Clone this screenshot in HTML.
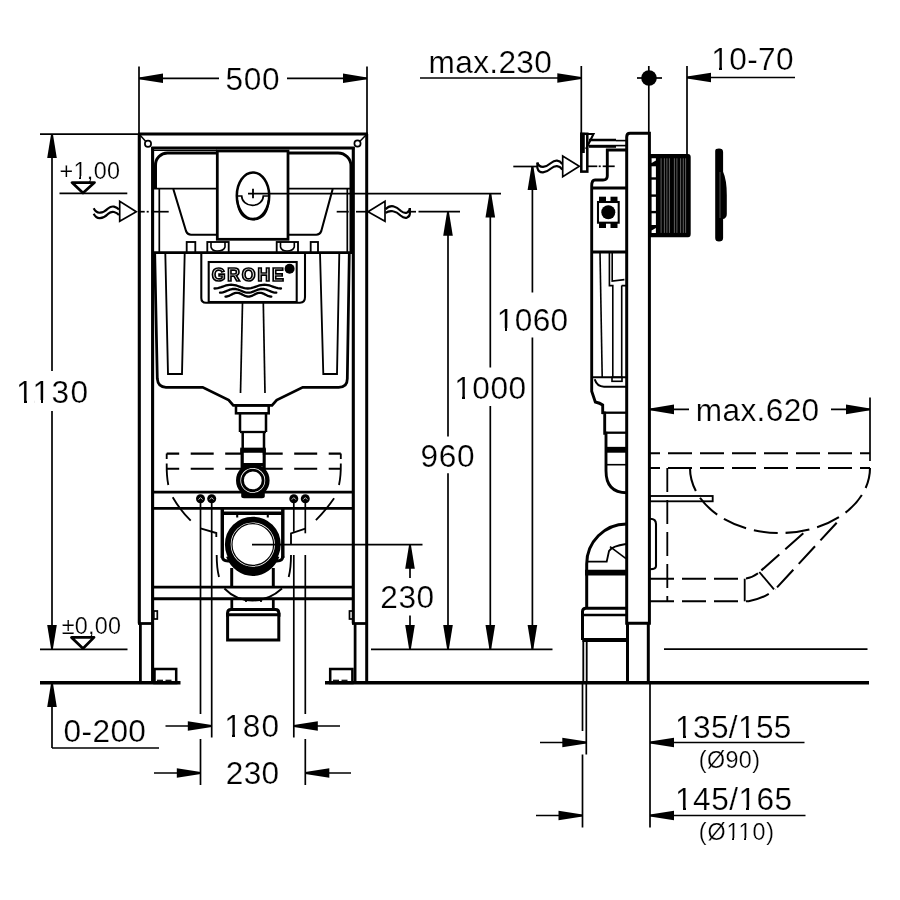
<!DOCTYPE html>
<html><head><meta charset="utf-8"><style>
html,body{margin:0;padding:0;background:#fff;width:900px;height:900px;overflow:hidden}
svg{display:block}
text{}
text{font-family:"Liberation Sans",sans-serif;fill:#000}
</style></head><body>
<svg width="900" height="900" viewBox="0 0 900 900" style="will-change:transform">
<rect width="900" height="900" fill="#fff"/>
<g stroke="#000" fill="none">
<line x1="139" y1="66.5" x2="139" y2="134" stroke-width="1.7" stroke-linecap="butt"/>
<line x1="367" y1="66.5" x2="367" y2="134" stroke-width="1.7" stroke-linecap="butt"/>
<line x1="139" y1="78.3" x2="219" y2="78.3" stroke-width="1.7" stroke-linecap="butt"/>
<line x1="287" y1="78.3" x2="367" y2="78.3" stroke-width="1.7" stroke-linecap="butt"/>
<polygon points="139,77.4 139,79.2 163,83.1 163,73.5" fill="#000" stroke="none"/>
<polygon points="367,77.4 367,79.2 343,83.1 343,73.5" fill="#000" stroke="none"/>
<text id="t0" x="225.62" y="90.32" font-size="31.60" letter-spacing="0.60" style="stroke:#fff;stroke-width:0.22px" >500</text>
<line x1="40" y1="134.1" x2="139" y2="134.1" stroke-width="1.7" stroke-linecap="butt"/>
<line x1="52" y1="134" x2="52" y2="371" stroke-width="1.7" stroke-linecap="butt"/>
<line x1="52" y1="411" x2="52" y2="649" stroke-width="1.7" stroke-linecap="butt"/>
<polygon points="51.1,134 52.9,134 56.8,158 47.2,158" fill="#000" stroke="none"/>
<polygon points="51.1,649 52.9,649 56.8,625 47.2,625" fill="#000" stroke="none"/>
<text id="t1" x="16.01" y="403.22" font-size="31.60" letter-spacing="1.38" style="stroke:#fff;stroke-width:0.22px" >1130</text>
<rect class="ft" x="17.90" y="400.00" width="6.04" height="5.00" fill="#fff" stroke="none" shape-rendering="crispEdges"/>
<rect class="ft" x="26.72" y="400.00" width="6.04" height="5.00" fill="#fff" stroke="none" shape-rendering="crispEdges"/>
<rect class="ft" x="34.50" y="400.00" width="6.04" height="5.00" fill="#fff" stroke="none" shape-rendering="crispEdges"/>
<rect class="ft" x="43.32" y="400.00" width="6.04" height="5.00" fill="#fff" stroke="none" shape-rendering="crispEdges"/>
<text id="t2" x="59.41" y="178.64" font-size="23.40" letter-spacing="0.37" style="stroke:#fff;stroke-width:0.22px" >+1,00</text>
<rect class="ft" x="74.85" y="176.00" width="4.47" height="4.00" fill="#fff" stroke="none" shape-rendering="crispEdges"/>
<rect class="ft" x="81.37" y="176.00" width="4.47" height="4.00" fill="#fff" stroke="none" shape-rendering="crispEdges"/>
<path d="M72,182.6 H94.5 L83,193 Z" stroke-width="2.76" fill="none" stroke-linejoin="round"/>
<line x1="59.5" y1="193.3" x2="127.3" y2="193.3" stroke-width="1.7" stroke-linecap="butt"/>
<text id="t3" x="61.66" y="634.42" font-size="23.40" letter-spacing="0.25" style="stroke:#fff;stroke-width:0.22px" >±0,00</text>
<path d="M71.5,637.4 H94 L83,648.5 Z" stroke-width="2.76" fill="none" stroke-linejoin="round"/>
<line x1="40" y1="649.3" x2="127.5" y2="649.3" stroke-width="1.7" stroke-linecap="butt"/>
<path d="M119.7,201.3 V221.3 L136.3,211.7 Z" stroke-width="1.7" fill="#fff" />
<path d="M93.7,208.3 Q96,213 100,212.7 Q104,212.5 108,208.5 Q111,206 114,206.6 Q117,207.3 119,209.5" stroke-width="2.18" fill="none" />
<path d="M93.7,213.7 Q96,218.4 100,218.1 Q104,217.9 108,213.9 Q111,211.4 114,212 Q117,212.7 119,214.9" stroke-width="2.18" fill="none" />
<line x1="140" y1="211.7" x2="144.7" y2="211.7" stroke-width="1.7" stroke-linecap="butt"/>
<line x1="146.7" y1="211.7" x2="148.7" y2="211.7" stroke-width="1.7" stroke-linecap="butt"/>
<line x1="151.3" y1="211.7" x2="168.7" y2="211.7" stroke-width="1.7" stroke-linecap="butt"/>
<path d="M385,201.3 V221.3 L368,211.7 Z" stroke-width="1.7" fill="#fff" />
<path d="M385.5,209.3 Q389,205.6 393.3,206.3 Q397,207 401,211 Q404,213.5 407,212.6 Q409.7,211.5 409.9,208" stroke-width="2.18" fill="none" />
<path d="M385.5,212.9 Q389,210.5 393,211.3 Q397,212 400.5,215.5 Q404,218.5 407,217.6 Q409.9,216.5 409.9,213.2 V208" stroke-width="2.18" fill="none" />
<line x1="336.7" y1="211.7" x2="348.7" y2="211.7" stroke-width="1.7" stroke-linecap="butt"/>
<line x1="356" y1="211.7" x2="366" y2="211.7" stroke-width="1.7" stroke-linecap="butt"/>
<line x1="411" y1="211.7" x2="416" y2="211.7" stroke-width="1.7" stroke-linecap="butt"/>
<line x1="418.5" y1="211.7" x2="460" y2="211.7" stroke-width="1.7" stroke-linecap="butt"/>
<line x1="139.3" y1="134" x2="139.3" y2="623.5" stroke-width="3.1" stroke-linecap="butt"/>
<line x1="140.4" y1="623.5" x2="140.4" y2="683" stroke-width="2.76" stroke-linecap="butt"/>
<line x1="152.6" y1="147" x2="152.6" y2="683" stroke-width="3.1" stroke-linecap="butt"/>
<line x1="138" y1="623.5" x2="153.5" y2="623.5" stroke-width="2.76" stroke-linecap="butt"/>
<line x1="138" y1="134" x2="368" y2="134" stroke-width="2.88" stroke-linecap="butt"/>
<line x1="151.5" y1="148" x2="354.5" y2="148" stroke-width="2.88" stroke-linecap="butt"/>
<line x1="353.3" y1="147" x2="353.3" y2="623.5" stroke-width="3.1" stroke-linecap="butt"/>
<line x1="355.1" y1="623.5" x2="355.1" y2="683" stroke-width="2.76" stroke-linecap="butt"/>
<line x1="366.7" y1="134" x2="366.7" y2="683" stroke-width="2.99" stroke-linecap="butt"/>
<line x1="352" y1="623.5" x2="368" y2="623.5" stroke-width="2.76" stroke-linecap="butt"/>
<circle cx="148" cy="143.7" r="3.1" stroke-width="1.72" fill="none"/>
<line x1="139.5" y1="134.5" x2="145.8" y2="141.5" stroke-width="1.49" stroke-linecap="butt"/>
<circle cx="357.5" cy="143.5" r="3.1" stroke-width="1.72" fill="none"/>
<line x1="366.5" y1="134.5" x2="359.7" y2="141.5" stroke-width="1.49" stroke-linecap="butt"/>
<line x1="152.6" y1="492.1" x2="353.3" y2="492.1" stroke-width="2.88" stroke-linecap="butt"/>
<line x1="152.6" y1="508.4" x2="353.3" y2="508.4" stroke-width="2.88" stroke-linecap="butt"/>
<line x1="152.6" y1="587.1" x2="353.3" y2="587.1" stroke-width="2.88" stroke-linecap="butt"/>
<line x1="152.6" y1="598.7" x2="353.3" y2="598.7" stroke-width="2.88" stroke-linecap="butt"/>
<rect x="154.5" y="669" width="21.7" height="14" stroke-width="2.53" fill="none" rx="0"/>
<rect x="330.2" y="669" width="22.2" height="14" stroke-width="2.53" fill="none" rx="0"/>
<line x1="157" y1="680.3" x2="163" y2="680.3" stroke-width="1.2" stroke-linecap="butt"/>
<line x1="165.5" y1="680.3" x2="171.5" y2="680.3" stroke-width="1.2" stroke-linecap="butt"/>
<line x1="333" y1="680.3" x2="339" y2="680.3" stroke-width="1.2" stroke-linecap="butt"/>
<line x1="341.5" y1="680.3" x2="347.5" y2="680.3" stroke-width="1.2" stroke-linecap="butt"/>
<rect x="153.8" y="611" width="3.5" height="8" stroke-width="1.72" fill="none" rx="0"/>
<rect x="349.5" y="611" width="3.5" height="8" stroke-width="1.72" fill="none" rx="0"/>
<line x1="40" y1="682.7" x2="180.5" y2="682.7" stroke-width="3.45" stroke-linecap="butt"/>
<line x1="325" y1="682.7" x2="869" y2="682.7" stroke-width="3.45" stroke-linecap="butt"/>
<line x1="152.6" y1="150.4" x2="217" y2="150.4" stroke-width="1.2" stroke-linecap="butt"/>
<rect x="217.3" y="151" width="70.7" height="88.3" stroke-width="2.76" fill="none" rx="0"/>
<path d="M217.3,153 H168 A12,12 0 0 0 155.5,165.5 V189" stroke-width="2.99" fill="none" />
<path d="M288,153 H338 A13,13 0 0 1 351,166 V253" stroke-width="2.99" fill="none" />
<line x1="152.6" y1="188.7" x2="217.3" y2="188.7" stroke-width="1.7" stroke-linecap="butt"/>
<line x1="288" y1="188.7" x2="350.7" y2="188.7" stroke-width="1.7" stroke-linecap="butt"/>
<line x1="159.3" y1="189" x2="159.3" y2="253" stroke-width="1.7" stroke-linecap="butt"/>
<line x1="347.3" y1="189" x2="347.3" y2="253" stroke-width="1.7" stroke-linecap="butt"/>
<path d="M173.3,189 L186,231 Q187.5,234.7 191,234.7 H217.3" stroke-width="2.07" fill="none" />
<path d="M332.7,189 L321.3,231 Q319.8,234.7 316.3,234.7 H288" stroke-width="2.07" fill="none" />
<ellipse cx="253" cy="195.7" rx="16.2" ry="23.3" stroke-width="2.53" fill="#fff"/>
<path d="M237.3,200 Q238.5,219.5 253,219.5 Q267.5,219.5 268.7,200" stroke-width="1.84" fill="none" />
<line x1="248" y1="193.7" x2="501" y2="193.7" stroke-width="1.7" stroke-linecap="butt"/>
<line x1="253" y1="188.7" x2="253" y2="198.3" stroke-width="1.84" stroke-linecap="butt"/>
<path d="M237,196 H241.7 A10.8,9.3 0 0 0 263.3,196 H269" stroke-width="1.7" fill="none" />
<line x1="152.6" y1="252.7" x2="353.3" y2="252.7" stroke-width="2.76" stroke-linecap="butt"/>
<rect x="186.7" y="242" width="8.6" height="11" stroke-width="1.84" fill="none" rx="0"/>
<rect x="207.3" y="242" width="21.4" height="11" stroke-width="1.84" fill="none" rx="0"/>
<path d="M211,242 V247 Q212,251 217,251 Q224,251 225,247 V242" stroke-width="1.61" fill="none" />
<rect x="276.7" y="242" width="21.3" height="11" stroke-width="1.84" fill="none" rx="0"/>
<path d="M280.5,242 V247 Q281.5,251 287,251 Q293,251 294.3,247 V242" stroke-width="1.61" fill="none" />
<rect x="310.7" y="242" width="7.3" height="11" stroke-width="1.84" fill="none" rx="0"/>
<path d="M154.7,253 L157.3,378.7 Q158,387.3 166,387.3 H202.7 L228.7,400 L233.3,405.3 H272 L276.7,400 L302.7,387.3 H338.7 Q347.3,387.3 347.3,378.7 L349.3,253" stroke-width="2.76" fill="none" />
<path d="M165.3,253 L168,374 H182 L184.7,253" stroke-width="1.84" fill="none" />
<path d="M320,253 L323.3,374 H337 L339.3,253" stroke-width="1.84" fill="none" />
<path d="M201.3,253 V298 Q201.3,302.7 206,302.7 H300 Q305,302.7 305,297 V253" stroke-width="2.07" fill="none" />
<rect x="208.7" y="262" width="88" height="40" stroke-width="2.07" fill="none" rx="0"/>
<text id="t4" x="211.80" y="281.28" font-size="17.60" letter-spacing="1.84" stroke="none" font-weight="bold" style="fill:#fff;stroke:#000;stroke-width:1.7px;paint-order:normal">GROHE</text>
<circle cx="289.6" cy="268.7" r="5" stroke-width="0.0" fill="#000"/>
<path d="M214.50,288.50 L216.16,288.41 L217.82,288.14 L219.49,287.72 L221.15,287.19 L222.81,286.60 L224.47,286.01 L226.14,285.48 L227.80,285.06 L229.46,284.79 L231.12,284.70 L232.79,284.79 L234.45,285.06 L236.11,285.48 L237.78,286.01 L239.44,286.60 L241.10,287.19 L242.76,287.72 L244.43,288.14 L246.09,288.41 L247.75,288.50 L249.41,288.41 L251.07,288.14 L252.74,287.72 L254.40,287.19 L256.06,286.60 L257.73,286.01 L259.39,285.48 L261.05,285.06 L262.71,284.79 L264.38,284.70 L266.04,284.79 L267.70,285.06 L269.36,285.48 L271.02,286.01 L272.69,286.60 L274.35,287.19 L276.01,287.72 L277.68,288.14 L279.34,288.41 L281.00,288.50" stroke-width="2.3" fill="none" stroke-linecap="round"/>
<path d="M220.00,292.70 L221.41,292.61 L222.81,292.34 L224.22,291.92 L225.63,291.39 L227.04,290.80 L228.44,290.21 L229.85,289.68 L231.26,289.26 L232.67,288.99 L234.07,288.90 L235.48,288.99 L236.89,289.26 L238.30,289.68 L239.71,290.21 L241.11,290.80 L242.52,291.39 L243.93,291.92 L245.34,292.34 L246.74,292.61 L248.15,292.70 L249.56,292.61 L250.97,292.34 L252.37,291.92 L253.78,291.39 L255.19,290.80 L256.60,290.21 L258.00,289.68 L259.41,289.26 L260.82,288.99 L262.23,288.90 L263.63,288.99 L265.04,289.26 L266.45,289.68 L267.86,290.21 L269.26,290.80 L270.67,291.39 L272.08,291.92 L273.49,292.34 L274.89,292.61 L276.30,292.70" stroke-width="2.3" fill="none" stroke-linecap="round"/>
<path d="M225.50,296.60 L226.65,296.51 L227.79,296.24 L228.94,295.82 L230.08,295.29 L231.22,294.70 L232.37,294.11 L233.52,293.58 L234.66,293.16 L235.81,292.89 L236.95,292.80 L238.09,292.89 L239.24,293.16 L240.38,293.58 L241.53,294.11 L242.68,294.70 L243.82,295.29 L244.97,295.82 L246.11,296.24 L247.25,296.51 L248.40,296.60 L249.55,296.51 L250.69,296.24 L251.84,295.82 L252.98,295.29 L254.12,294.70 L255.27,294.11 L256.42,293.58 L257.56,293.16 L258.70,292.89 L259.85,292.80 L261.00,292.89 L262.14,293.16 L263.29,293.58 L264.43,294.11 L265.57,294.70 L266.72,295.29 L267.87,295.82 L269.01,296.24 L270.16,296.51 L271.30,296.60" stroke-width="2.3" fill="none" stroke-linecap="round"/>
<line x1="242.5" y1="302.7" x2="240.5" y2="393" stroke-width="1.7" stroke-linecap="butt"/>
<line x1="263.3" y1="302.7" x2="265" y2="393" stroke-width="1.7" stroke-linecap="butt"/>
<line x1="166.7" y1="453.6" x2="340.8" y2="453.6" stroke-width="2.07" stroke-dasharray="23,11.5" stroke-linecap="butt" stroke-dashoffset="10.5"/>
<line x1="166.7" y1="468.8" x2="340.8" y2="468.8" stroke-width="2.07" stroke-dasharray="23,11.5" stroke-linecap="butt" stroke-dashoffset="10.5"/>
<path d="M166.7,453.6 V459 M166.7,463.5 Q166.5,476 168.3,485" stroke-width="1.84" fill="none" />
<rect x="236" y="405.3" width="32.7" height="8" stroke-width="2.53" fill="none" rx="0"/>
<line x1="240" y1="413.3" x2="240" y2="432" stroke-width="2.53" stroke-linecap="butt"/>
<line x1="266" y1="413.3" x2="266" y2="432" stroke-width="2.53" stroke-linecap="butt"/>
<line x1="240" y1="432" x2="266" y2="432" stroke-width="2.3" stroke-linecap="butt"/>
<line x1="242.7" y1="432" x2="242.7" y2="450" stroke-width="2.53" stroke-linecap="butt"/>
<line x1="264" y1="432" x2="264" y2="450" stroke-width="2.53" stroke-linecap="butt"/>
<line x1="240.2" y1="450.3" x2="265.8" y2="450.3" stroke-width="5.29" stroke-linecap="butt"/>
<line x1="242.3" y1="449" x2="242.3" y2="470" stroke-width="3.45" stroke-linecap="butt"/>
<line x1="264" y1="449" x2="264" y2="470" stroke-width="3.45" stroke-linecap="butt"/>
<line x1="242.3" y1="464.5" x2="264" y2="464.5" stroke-width="3.45" stroke-linecap="butt"/>
<rect x="243.8" y="452.8" width="18.7" height="10.2" stroke-width="0.0" fill="#fff" rx="0"/>
<path d="M241.2,492 H264.8 V496 Q264.8,498.2 262,498.2 H244 Q241.2,498.2 241.2,496 Z" stroke-width="0.0" fill="#000" />
<circle cx="252.8" cy="480.4" r="14.6" stroke-width="4.37" fill="#fff"/>
<circle cx="252.8" cy="480.4" r="10.3" stroke-width="2.76" fill="none"/>
<line x1="222.3" y1="508" x2="222.3" y2="558" stroke-width="3.45" stroke-linecap="butt"/>
<line x1="282.8" y1="508" x2="282.8" y2="558" stroke-width="3.45" stroke-linecap="butt"/>
<line x1="222.3" y1="513.3" x2="282.8" y2="513.3" stroke-width="3.45" stroke-linecap="butt"/>
<line x1="237.2" y1="513" x2="237.2" y2="517.5" stroke-width="2.07" stroke-linecap="butt"/>
<line x1="267.8" y1="513" x2="267.8" y2="517.5" stroke-width="2.07" stroke-linecap="butt"/>
<path d="M222.3,556 Q222.3,561 228,561 H233 M282.8,556 Q282.8,561 277,561 H272" stroke-width="2.99" fill="none" />
<circle cx="252.8" cy="544.5" r="25" stroke-width="5.75" fill="#fff"/>
<path d="M228.5,556 A27,31 0 0 0 277,556" stroke-width="5.17" fill="none" />
<circle cx="252.8" cy="544.5" r="20.8" stroke-width="1.2" fill="none"/>
<line x1="252" y1="544.7" x2="422.5" y2="544.7" stroke-width="1.7" stroke-linecap="butt"/>
<line x1="231.7" y1="568" x2="231.7" y2="587" stroke-width="2.99" stroke-linecap="butt"/>
<line x1="273.3" y1="568" x2="273.3" y2="587" stroke-width="2.99" stroke-linecap="butt"/>
<path d="M224.4,588.5 Q236,600.5 252.5,600.5 Q269,600.5 282,588.5" stroke-width="1.84" fill="none" />
<line x1="231.8" y1="599" x2="231.8" y2="610" stroke-width="2.76" stroke-linecap="butt"/>
<line x1="273.3" y1="599" x2="273.3" y2="610" stroke-width="2.76" stroke-linecap="butt"/>
<line x1="246" y1="599" x2="246" y2="602" stroke-width="1.72" stroke-linecap="butt"/>
<line x1="261" y1="599" x2="261" y2="602" stroke-width="1.72" stroke-linecap="butt"/>
<path d="M227.6,640 V613 Q227.6,609.6 231,609.6 H275.5 Q278.8,609.6 278.8,613 V640 Z" stroke-width="2.99" fill="none" />
<line x1="227.6" y1="614.7" x2="278.8" y2="614.7" stroke-width="2.99" stroke-linecap="butt"/>
<line x1="226" y1="614.7" x2="227.6" y2="614.7" stroke-width="4.02" stroke-linecap="butt"/>
<line x1="278.8" y1="614.7" x2="280.5" y2="614.7" stroke-width="4.02" stroke-linecap="butt"/>
<path d="M340.8,453.6 V459 M340.8,463.5 Q341,476 339,485" stroke-width="1.84" fill="none" />
<path d="M172.7,497.3 Q180,510 190.7,520.7" stroke-width="1.84" fill="none" />
<path d="M334.1,498.3 Q326,510 315.9,520.1" stroke-width="1.84" fill="none" />
<circle cx="200.5" cy="498.7" r="4.5" stroke-width="0.0" fill="#000"/>
<path d="M198.5,499.6 L200.5,497.6 L202.5,499.6" stroke-width="0.8" fill="none" stroke="#fff"/>
<circle cx="211.7" cy="498.7" r="4.5" stroke-width="0.0" fill="#000"/>
<path d="M209.7,499.6 L211.7,497.6 L213.7,499.6" stroke-width="0.8" fill="none" stroke="#fff"/>
<circle cx="293.8" cy="498.7" r="4.5" stroke-width="0.0" fill="#000"/>
<path d="M291.8,499.6 L293.8,497.6 L295.8,499.6" stroke-width="0.8" fill="none" stroke="#fff"/>
<circle cx="305.3" cy="498.7" r="4.5" stroke-width="0.0" fill="#000"/>
<path d="M303.3,499.6 L305.3,497.6 L307.3,499.6" stroke-width="0.8" fill="none" stroke="#fff"/>
<path d="M200.5,528.3 L216.3,533 V537" stroke-width="1.84" fill="none" />
<path d="M305.3,528.6 L291,533.3 V544" stroke-width="1.84" fill="none" />
<line x1="200.5" y1="503" x2="200.5" y2="714" stroke-width="1.7" stroke-linecap="butt"/>
<line x1="200.5" y1="739" x2="200.5" y2="785" stroke-width="1.7" stroke-linecap="butt"/>
<line x1="211.7" y1="503" x2="211.7" y2="737.5" stroke-width="1.7" stroke-linecap="butt"/>
<line x1="293.8" y1="503" x2="293.8" y2="531.8" stroke-width="1.7" stroke-linecap="butt"/>
<line x1="293.8" y1="555" x2="293.8" y2="737.5" stroke-width="1.7" stroke-linecap="butt"/>
<line x1="305.3" y1="503" x2="305.3" y2="533.3" stroke-width="1.7" stroke-linecap="butt"/>
<line x1="305.3" y1="555" x2="305.3" y2="714" stroke-width="1.7" stroke-linecap="butt"/>
<line x1="305.3" y1="739" x2="305.3" y2="785" stroke-width="1.7" stroke-linecap="butt"/>
<path d="M291,555 Q291,568 288.7,577" stroke-width="1.84" fill="none" />
<path d="M216.7,555 Q216.7,568 219,577" stroke-width="1.84" fill="none" />
<line x1="165.5" y1="726" x2="211.8" y2="726" stroke-width="1.7" stroke-linecap="butt"/>
<polygon points="211.8,725.1 211.8,726.9 187.8,730.8 187.8,721.2" fill="#000" stroke="none"/>
<line x1="293.8" y1="726" x2="340" y2="726" stroke-width="1.7" stroke-linecap="butt"/>
<polygon points="293.8,725.1 293.8,726.9 317.8,730.8 317.8,721.2" fill="#000" stroke="none"/>
<line x1="154" y1="773" x2="200.8" y2="773" stroke-width="1.7" stroke-linecap="butt"/>
<polygon points="200.8,772.1 200.8,773.9 176.8,777.8 176.8,768.2" fill="#000" stroke="none"/>
<line x1="305.3" y1="773" x2="351" y2="773" stroke-width="1.7" stroke-linecap="butt"/>
<polygon points="305.3,772.1 305.3,773.9 329.3,777.8 329.3,768.2" fill="#000" stroke="none"/>
<text id="t5" x="224.17" y="736.87" font-size="31.60" letter-spacing="1.13" style="stroke:#fff;stroke-width:0.22px" >180</text>
<rect class="ft" x="226.07" y="734.00" width="6.04" height="4.00" fill="#fff" stroke="none" shape-rendering="crispEdges"/>
<rect class="ft" x="234.88" y="734.00" width="6.04" height="4.00" fill="#fff" stroke="none" shape-rendering="crispEdges"/>
<text id="t6" x="225.74" y="784.17" font-size="31.60" letter-spacing="0.36" style="stroke:#fff;stroke-width:0.22px" >230</text>
<line x1="52" y1="683" x2="52" y2="748" stroke-width="1.7" stroke-linecap="butt"/>
<line x1="52" y1="748" x2="159" y2="748" stroke-width="1.7" stroke-linecap="butt"/>
<polygon points="51.1,683 52.9,683 56.8,707 47.2,707" fill="#000" stroke="none"/>
<text id="t7" x="63.52" y="742.16" font-size="31.60" letter-spacing="0.40" style="stroke:#fff;stroke-width:0.22px" >0-200</text>
<line x1="448" y1="211.7" x2="448" y2="436.4" stroke-width="1.7" stroke-linecap="butt"/>
<line x1="448" y1="473.3" x2="448" y2="649" stroke-width="1.7" stroke-linecap="butt"/>
<polygon points="447.1,211.7 448.9,211.7 452.8,235.7 443.2,235.7" fill="#000" stroke="none"/>
<polygon points="447.1,649 448.9,649 452.8,625 443.2,625" fill="#000" stroke="none"/>
<text id="t8" x="420.60" y="466.57" font-size="31.60" letter-spacing="0.62" style="stroke:#fff;stroke-width:0.22px" >960</text>
<line x1="490.3" y1="193.5" x2="490.3" y2="367.5" stroke-width="1.7" stroke-linecap="butt"/>
<line x1="490.3" y1="406" x2="490.3" y2="649" stroke-width="1.7" stroke-linecap="butt"/>
<polygon points="489.4,193.5 491.2,193.5 495.1,217.5 485.5,217.5" fill="#000" stroke="none"/>
<polygon points="489.4,649 491.2,649 495.1,625 485.5,625" fill="#000" stroke="none"/>
<text id="t9" x="454.25" y="399.12" font-size="31.60" letter-spacing="0.52" style="stroke:#fff;stroke-width:0.22px" >1000</text>
<rect class="ft" x="456.14" y="396.00" width="6.04" height="5.00" fill="#fff" stroke="none" shape-rendering="crispEdges"/>
<rect class="ft" x="464.96" y="396.00" width="6.04" height="5.00" fill="#fff" stroke="none" shape-rendering="crispEdges"/>
<line x1="532.4" y1="166" x2="532.4" y2="292.5" stroke-width="1.7" stroke-linecap="butt"/>
<line x1="532.4" y1="337.5" x2="532.4" y2="649" stroke-width="1.7" stroke-linecap="butt"/>
<polygon points="531.5,166 533.3,166 537.2,190 527.6,190" fill="#000" stroke="none"/>
<polygon points="531.5,649 533.3,649 537.2,625 527.6,625" fill="#000" stroke="none"/>
<text id="t10" x="496.75" y="330.62" font-size="31.60" letter-spacing="0.38" style="stroke:#fff;stroke-width:0.22px" >1060</text>
<rect class="ft" x="498.65" y="328.00" width="6.04" height="4.00" fill="#fff" stroke="none" shape-rendering="crispEdges"/>
<rect class="ft" x="507.46" y="328.00" width="6.04" height="4.00" fill="#fff" stroke="none" shape-rendering="crispEdges"/>
<line x1="371" y1="649.3" x2="552.5" y2="649.3" stroke-width="1.7" stroke-linecap="butt"/>
<line x1="410" y1="544.7" x2="410" y2="578" stroke-width="1.7" stroke-linecap="butt"/>
<line x1="410" y1="615.5" x2="410" y2="649" stroke-width="1.7" stroke-linecap="butt"/>
<polygon points="409.1,544.7 410.9,544.7 414.8,568.7 405.2,568.7" fill="#000" stroke="none"/>
<polygon points="409.1,649 410.9,649 414.8,625 405.2,625" fill="#000" stroke="none"/>
<text id="t11" x="380.23" y="607.77" font-size="31.60" letter-spacing="0.62" style="stroke:#fff;stroke-width:0.22px" >230</text>
<text id="t12" x="428.57" y="72.51" font-size="31.60" letter-spacing="0.34" style="stroke:#fff;stroke-width:0.22px" >max.230</text>
<line x1="420" y1="78" x2="581.3" y2="78" stroke-width="1.7" stroke-linecap="butt"/>
<polygon points="581.3,77.1 581.3,78.9 557.3,82.8 557.3,73.2" fill="#000" stroke="none"/>
<line x1="581.3" y1="66" x2="581.3" y2="134" stroke-width="1.7" stroke-linecap="butt"/>
<circle cx="649" cy="78" r="7.8" stroke-width="0.0" fill="#000"/>
<line x1="637" y1="78" x2="662" y2="78" stroke-width="1.7" stroke-linecap="butt"/>
<line x1="648.8" y1="66" x2="648.8" y2="134" stroke-width="1.7" stroke-linecap="butt"/>
<text id="t13" x="711.33" y="70.02" font-size="31.60" letter-spacing="0.33" style="stroke:#fff;stroke-width:0.22px" >10-70</text>
<rect class="ft" x="713.23" y="67.00" width="6.04" height="4.00" fill="#fff" stroke="none" shape-rendering="crispEdges"/>
<rect class="ft" x="722.04" y="67.00" width="6.04" height="4.00" fill="#fff" stroke="none" shape-rendering="crispEdges"/>
<line x1="687" y1="77.5" x2="795" y2="77.5" stroke-width="1.7" stroke-linecap="butt"/>
<polygon points="687,76.6 687,78.4 711,82.3 711,72.7" fill="#000" stroke="none"/>
<line x1="687" y1="66" x2="687" y2="154" stroke-width="1.7" stroke-linecap="butt"/>
<text id="t14" x="695.76" y="421.46" font-size="31.60" letter-spacing="0.37" style="stroke:#fff;stroke-width:0.22px" >max.620</text>
<line x1="650" y1="409.4" x2="689" y2="409.4" stroke-width="1.7" stroke-linecap="butt"/>
<line x1="831" y1="409.4" x2="870" y2="409.4" stroke-width="1.7" stroke-linecap="butt"/>
<polygon points="650,408.5 650,410.3 674,414.2 674,404.6" fill="#000" stroke="none"/>
<polygon points="870,408.5 870,410.3 846,414.2 846,404.6" fill="#000" stroke="none"/>
<line x1="870" y1="397.5" x2="870" y2="461" stroke-width="1.7" stroke-linecap="butt"/>
<line x1="586.3" y1="683" x2="586.3" y2="754.5" stroke-width="1.7" stroke-linecap="butt"/>
<line x1="582.5" y1="683" x2="582.5" y2="731" stroke-width="1.7" stroke-linecap="butt"/>
<line x1="582.5" y1="754.5" x2="582.5" y2="827.5" stroke-width="1.7" stroke-linecap="butt"/>
<line x1="650" y1="683" x2="650" y2="827.5" stroke-width="1.7" stroke-linecap="butt"/>
<line x1="540" y1="742.5" x2="586.3" y2="742.5" stroke-width="1.7" stroke-linecap="butt"/>
<polygon points="586.3,741.6 586.3,743.4 562.3,747.3 562.3,737.7" fill="#000" stroke="none"/>
<line x1="536" y1="815.5" x2="582.5" y2="815.5" stroke-width="1.7" stroke-linecap="butt"/>
<polygon points="582.5,814.6 582.5,816.4 558.5,820.3 558.5,810.7" fill="#000" stroke="none"/>
<line x1="650" y1="742.5" x2="804.5" y2="742.5" stroke-width="1.7" stroke-linecap="butt"/>
<polygon points="650,741.6 650,743.4 674,747.3 674,737.7" fill="#000" stroke="none"/>
<line x1="650" y1="815.5" x2="805.5" y2="815.5" stroke-width="1.7" stroke-linecap="butt"/>
<polygon points="650,814.6 650,816.4 674,820.3 674,810.7" fill="#000" stroke="none"/>
<text id="t15" x="675.05" y="737.93" font-size="31.60" letter-spacing="0.36" style="stroke:#fff;stroke-width:0.22px" >135/155</text>
<rect class="ft" x="676.94" y="735.00" width="6.04" height="4.00" fill="#fff" stroke="none" shape-rendering="crispEdges"/>
<rect class="ft" x="685.76" y="735.00" width="6.04" height="4.00" fill="#fff" stroke="none" shape-rendering="crispEdges"/>
<rect class="ft" x="739.87" y="735.00" width="6.04" height="4.00" fill="#fff" stroke="none" shape-rendering="crispEdges"/>
<rect class="ft" x="748.69" y="735.00" width="6.04" height="4.00" fill="#fff" stroke="none" shape-rendering="crispEdges"/>
<text id="t16" x="698.69" y="768.44" font-size="23.30" letter-spacing="0.45" style="stroke:#fff;stroke-width:0.22px" >(Ø90)</text>
<text id="t17" x="675.05" y="810.23" font-size="31.60" letter-spacing="0.49" style="stroke:#fff;stroke-width:0.22px" >145/165</text>
<rect class="ft" x="676.94" y="807.00" width="6.04" height="5.00" fill="#fff" stroke="none" shape-rendering="crispEdges"/>
<rect class="ft" x="685.76" y="807.00" width="6.04" height="5.00" fill="#fff" stroke="none" shape-rendering="crispEdges"/>
<rect class="ft" x="740.39" y="807.00" width="6.04" height="5.00" fill="#fff" stroke="none" shape-rendering="crispEdges"/>
<rect class="ft" x="749.21" y="807.00" width="6.04" height="5.00" fill="#fff" stroke="none" shape-rendering="crispEdges"/>
<text id="t18" x="698.69" y="840.37" font-size="23.30" letter-spacing="0.93" style="stroke:#fff;stroke-width:0.22px" >(Ø110)</text>
<rect class="ft" x="727.82" y="838.00" width="4.45" height="4.00" fill="#fff" stroke="none" shape-rendering="crispEdges"/>
<rect class="ft" x="734.32" y="838.00" width="4.45" height="4.00" fill="#fff" stroke="none" shape-rendering="crispEdges"/>
<rect class="ft" x="739.97" y="838.00" width="4.45" height="4.00" fill="#fff" stroke="none" shape-rendering="crispEdges"/>
<rect class="ft" x="746.47" y="838.00" width="4.45" height="4.00" fill="#fff" stroke="none" shape-rendering="crispEdges"/>
<path d="M626.7,623.3 V137 Q626.7,133.3 630,133.3 H649.4 V623.3 Z" stroke-width="2.99" fill="none" />
<line x1="627.5" y1="623.3" x2="627.5" y2="683" stroke-width="2.99" stroke-linecap="butt"/>
<line x1="648.3" y1="623.3" x2="648.3" y2="683" stroke-width="2.99" stroke-linecap="butt"/>
<rect x="581.3" y="133.8" width="6" height="37.8" stroke-width="2.53" fill="none" rx="0"/>
<rect x="580.3" y="132.8" width="4.5" height="20.2" stroke-width="0.0" fill="#000" rx="0"/>
<path d="M587.3,134 H593.5 L586,149" stroke-width="2.07" fill="none" />
<line x1="589" y1="140" x2="616" y2="140" stroke-width="2.53" stroke-linecap="butt"/>
<line x1="616" y1="140.6" x2="626" y2="140.6" stroke-width="1.61" stroke-linecap="butt"/>
<line x1="589" y1="146.3" x2="616" y2="146.3" stroke-width="2.99" stroke-linecap="butt"/>
<line x1="616" y1="145.6" x2="626" y2="145.6" stroke-width="1.61" stroke-linecap="butt"/>
<path d="M562.7,156 V176.7 L579.3,166.3 Z" stroke-width="1.7" fill="#fff" />
<path d="M537.4,162.6 Q538.5,166.8 543,166.8 Q547,166.5 551,163 Q554,160.5 557,160.7 Q560,161 562.3,164" stroke-width="2.18" fill="none" />
<path d="M537.4,162.6 V168 Q538.5,172.5 543,172.4 Q547,172 551,168.5 Q554,166 557,166.2 Q560,166.5 562.3,169.5" stroke-width="2.18" fill="none" />
<line x1="513.3" y1="166.5" x2="537" y2="166.5" stroke-width="1.7" stroke-linecap="butt"/>
<line x1="588" y1="166.3" x2="597.3" y2="166.3" stroke-width="1.7" stroke-linecap="butt"/>
<line x1="598.7" y1="166.3" x2="600.7" y2="166.3" stroke-width="1.7" stroke-linecap="butt"/>
<line x1="602.7" y1="166.3" x2="614.7" y2="166.3" stroke-width="1.7" stroke-linecap="butt"/>
<path d="M626.7,150 H607.3 V176 Q607.3,180 603,180 H595 Q591.7,180 591.7,186 V391.3 L595.3,402 Q600,403 602.7,405 V412.7 L604.7,413 V433.3 H606 V470.7 Q606,492.7 626.7,492.7" stroke-width="2.88" fill="none" />
<line x1="591.7" y1="188" x2="626.7" y2="188" stroke-width="2.99" stroke-linecap="butt"/>
<rect x="598" y="202" width="20.7" height="20.7" stroke-width="2.07" fill="none" rx="0"/>
<circle cx="608.3" cy="212.3" r="7" stroke-width="0.0" fill="#000"/>
<rect x="599" y="196.7" width="7" height="5.3" stroke-width="0.0" fill="#000" rx="0"/>
<rect x="610.5" y="196.7" width="7" height="5.3" stroke-width="0.0" fill="#000" rx="0"/>
<rect x="599" y="222.7" width="7" height="5.3" stroke-width="0.0" fill="#000" rx="0"/>
<rect x="610.5" y="222.7" width="7" height="5.3" stroke-width="0.0" fill="#000" rx="0"/>
<line x1="591.7" y1="252" x2="626.7" y2="252" stroke-width="2.99" stroke-linecap="butt"/>
<path d="M600,252 L602.2,377" stroke-width="1.61" fill="none" />
<path d="M609.4,252 V285.6 H612.8 V377" stroke-width="1.61" fill="none" />
<path d="M612.2,252 V281 L624.4,279.6" stroke-width="1.61" fill="none" />
<path d="M621.7,285.6 V377 M621.7,285.6 H626" stroke-width="1.61" fill="none" />
<line x1="591.7" y1="377.3" x2="626.7" y2="377.3" stroke-width="2.07" stroke-linecap="butt"/>
<path d="M594.7,379.3 Q597,386.7 604,386.7 H626.7" stroke-width="2.07" fill="none" />
<rect x="612" y="377.3" width="10" height="4" stroke-width="1.61" fill="none" rx="0"/>
<line x1="602.7" y1="412.7" x2="626.7" y2="412.7" stroke-width="2.3" stroke-linecap="butt"/>
<line x1="604.7" y1="432.7" x2="626.7" y2="432.7" stroke-width="2.3" stroke-linecap="butt"/>
<line x1="606" y1="448" x2="626.7" y2="448" stroke-width="2.3" stroke-linecap="butt"/>
<line x1="605" y1="450.7" x2="626.7" y2="450.7" stroke-width="4.02" stroke-linecap="butt"/>
<line x1="606" y1="464.7" x2="626.7" y2="464.7" stroke-width="1.61" stroke-linecap="butt"/>
<path d="M626.5,524 A40,40 0 0 0 586.7,564 V608.3" stroke-width="2.99" fill="none" />
<path d="M586.7,561.7 H606.7 L609,551 Q612,546 626,544" stroke-width="1.84" fill="none" />
<line x1="610" y1="546.7" x2="626" y2="558.7" stroke-width="1.61" stroke-linecap="butt"/>
<line x1="585" y1="572.5" x2="627" y2="572.5" stroke-width="5.75" stroke-linecap="butt"/>
<path d="M582.5,640 V611.5 Q582.5,608.3 586,608.3 H627" stroke-width="2.99" fill="none" />
<line x1="582.5" y1="615" x2="627" y2="615" stroke-width="2.53" stroke-linecap="butt"/>
<line x1="582.5" y1="640" x2="627" y2="640" stroke-width="4.14" stroke-linecap="butt"/>
<line x1="583.3" y1="640" x2="583.3" y2="683" stroke-width="1.84" stroke-linecap="butt"/>
<line x1="586.7" y1="640" x2="586.7" y2="683" stroke-width="1.84" stroke-linecap="butt"/>
<path d="M650,154 H688 Q690.7,154 690.7,157 V234 Q690.7,237.2 688,237.2 H650 Z" stroke-width="0.0" fill="#000" />
<line x1="661.1" y1="158.3" x2="661.1" y2="232.9" stroke-width="0.9" stroke-linecap="butt" stroke="#6a6a6a"/>
<line x1="664.4" y1="158.3" x2="664.4" y2="232.9" stroke-width="0.9" stroke-linecap="butt" stroke="#6a6a6a"/>
<line x1="666.9" y1="158.3" x2="666.9" y2="232.9" stroke-width="0.9" stroke-linecap="butt" stroke="#6a6a6a"/>
<line x1="669.4" y1="158.3" x2="669.4" y2="232.9" stroke-width="0.9" stroke-linecap="butt" stroke="#6a6a6a"/>
<line x1="674.4" y1="158.3" x2="674.4" y2="232.9" stroke-width="0.9" stroke-linecap="butt" stroke="#6a6a6a"/>
<line x1="676.9" y1="158.3" x2="676.9" y2="232.9" stroke-width="0.9" stroke-linecap="butt" stroke="#6a6a6a"/>
<line x1="680.6" y1="158.3" x2="680.6" y2="232.9" stroke-width="0.9" stroke-linecap="butt" stroke="#6a6a6a"/>
<line x1="683.3" y1="158.3" x2="683.3" y2="232.9" stroke-width="0.9" stroke-linecap="butt" stroke="#6a6a6a"/>
<line x1="685.6" y1="158.3" x2="685.6" y2="232.9" stroke-width="0.9" stroke-linecap="butt" stroke="#6a6a6a"/>
<rect x="651.6" y="166.3" width="4.3" height="11" stroke-width="0.0" fill="#fff" rx="0"/>
<rect x="651.6" y="179.7" width="4.3" height="14.7" stroke-width="0.0" fill="#fff" rx="0"/>
<rect x="651.6" y="196.8" width="4.3" height="14.1" stroke-width="0.0" fill="#fff" rx="0"/>
<rect x="651.6" y="213.3" width="4.3" height="11.7" stroke-width="0.0" fill="#fff" rx="0"/>
<path d="M651.6,158.3 H655.9 V160.5 L651.6,163 Z" stroke-width="0.0" fill="#fff" />
<path d="M651.6,233 H655.9 V228 L651.6,230.5 Z" stroke-width="0.0" fill="#fff" />
<path d="M715.2,151 Q715.2,148.6 719,148.6 Q723.1,148.6 723.1,152 V171.8 Q726.8,180 726.8,195 V214 Q726.8,218.2 723.1,219 V238 Q723.1,241.5 719,241.5 Q715.2,241.5 715.2,238 Z" stroke-width="0.0" fill="#000" />
<line x1="720" y1="172" x2="720" y2="218" stroke-width="0.8" stroke-linecap="butt" stroke="#666"/>
<path d="M650,518.7 Q656,518.7 656,524 V566 Q656,569.3 650,569.3" stroke-width="2.07" fill="none" />
<line x1="650" y1="453.3" x2="870" y2="453.3" stroke-width="2.07" stroke-dasharray="24,8" stroke-linecap="butt" stroke-dashoffset="14"/>
<line x1="650" y1="468" x2="870" y2="468" stroke-width="2.07" stroke-dasharray="24,8" stroke-linecap="butt" stroke-dashoffset="14"/>
<path d="M690,468 A90,65 0 0 0 870,468" stroke-width="2.07" fill="none" stroke-dasharray="24,8" />
<rect x="650" y="496" width="62.7" height="5.3" stroke-width="1.84" fill="none" rx="0"/>
<line x1="667.3" y1="468" x2="667.3" y2="601.3" stroke-width="1.84" stroke-dasharray="24,8" stroke-linecap="butt"/>
<line x1="803.3" y1="533.3" x2="758" y2="573.3" stroke-width="2.07" stroke-dasharray="24,8" stroke-linecap="butt"/>
<line x1="836.7" y1="522.7" x2="775.3" y2="589.3" stroke-width="2.07" stroke-dasharray="24,8" stroke-linecap="butt"/>
<path d="M650,578.7 H744.7 Q752,578 758,573.3" stroke-width="2.07" fill="none" stroke-dasharray="24,8" />
<path d="M650,601.3 H748.7 Q765,598 775.3,589.3" stroke-width="2.07" fill="none" stroke-dasharray="24,8" />
<line x1="744.7" y1="578.7" x2="744.7" y2="601.3" stroke-width="1.84" stroke-linecap="butt"/>
<line x1="759.3" y1="572" x2="774" y2="589.3" stroke-width="1.84" stroke-linecap="butt"/>
<line x1="664" y1="649.2" x2="867.5" y2="649.2" stroke-width="1.7" stroke-linecap="butt"/>
</g>
</svg>
</body></html>
